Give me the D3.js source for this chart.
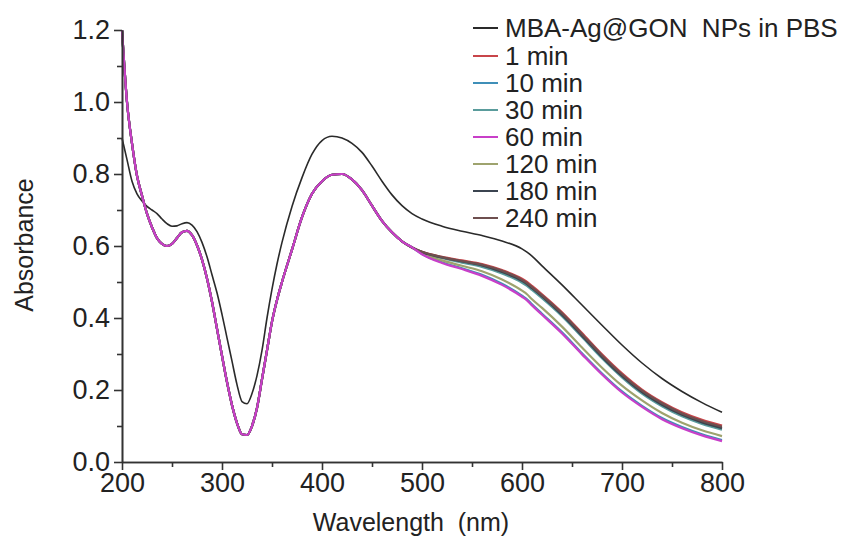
<!DOCTYPE html>
<html><head><meta charset="utf-8">
<script src="https://cdn.jsdelivr.net/npm/d3@7"></script>
<style>
body{margin:0;background:#fff}
svg text{font-family:Arial,"Liberation Sans",sans-serif;fill:#222}
</style>
</head><body>
<svg id="chart" width="844" height="537"></svg>
<script>
// ---- data ----
const wavelengths = [200,205,210,215,220,225,230,235,240,245,250,255,260,265,270,275,280,285,290,295,300,305,310,315,320,325,330,335,340,345,350,355,360,370,380,390,400,410,420,430,440,450,460,470,480,490,
  500,520,540,560,580,600,605,610,620,640,660,680,700,720,740,760,780,800];

const refPBS = [0.90,0.84,0.78,0.745,0.725,0.71,0.70,0.69,0.675,0.662,0.655,0.656,0.662,0.665,0.658,0.64,0.61,0.57,0.52,0.47,0.41,0.345,0.28,0.215,0.168,0.162,0.19,0.24,0.31,0.40,0.48,0.55,0.61,0.71,0.79,0.855,0.893,0.905,0.90,0.885,0.86,0.822,0.78,0.742,0.712,0.69,
  0.675,0.655,0.641,0.629,0.614,0.592,0.583,0.572,0.545,0.492,0.436,0.38,0.325,0.275,0.232,0.196,0.165,0.138];

// colored curves coincide up to ~490 nm
const sharedHead = [1.20,1.00,0.885,0.795,0.74,0.69,0.652,0.622,0.606,0.600,0.606,0.622,0.638,0.642,0.630,0.602,0.562,0.51,0.445,0.37,0.295,0.222,0.158,0.108,0.077,0.075,0.10,0.15,0.23,0.31,0.39,0.45,0.50,0.59,0.68,0.745,0.78,0.798,0.80,0.785,0.755,0.712,0.67,0.638,0.613,0.596];

const tail1   = [0.584,0.570,0.560,0.550,0.533,0.509,0.500,0.489,0.466,0.416,0.358,0.299,0.246,0.201,0.166,0.138,0.117,0.101];
const tail10  = [0.578,0.555,0.538,0.520,0.495,0.462,0.452,0.438,0.412,0.360,0.302,0.246,0.196,0.156,0.122,0.097,0.077,0.061];
const tail30  = [0.582,0.566,0.554,0.542,0.524,0.498,0.489,0.478,0.455,0.405,0.347,0.288,0.235,0.190,0.155,0.127,0.106,0.090];
const tail60  = [0.577,0.553,0.536,0.517,0.492,0.459,0.449,0.435,0.409,0.357,0.299,0.243,0.193,0.153,0.119,0.094,0.074,0.058];
const tail120 = [0.580,0.560,0.545,0.530,0.507,0.476,0.466,0.452,0.428,0.376,0.318,0.262,0.212,0.171,0.136,0.109,0.088,0.072];
const tail180 = [0.583,0.568,0.557,0.546,0.528,0.503,0.494,0.483,0.460,0.409,0.351,0.292,0.239,0.194,0.159,0.131,0.110,0.094];
const tail240 = [0.584,0.569,0.558,0.548,0.531,0.506,0.497,0.486,0.463,0.413,0.355,0.296,0.243,0.198,0.163,0.135,0.114,0.098];

const seriesNames  = ["MBA-Ag@GON  NPs in PBS","1 min","10 min","30 min","60 min","120 min","180 min","240 min"];
const seriesColors = ["#2a2a2a","#c8454a","#3f8fb8","#5a9c9c","#c83fc8","#9ea36e","#3b4450","#6e4f4f"];
const seriesValues = [refPBS, sharedHead.concat(tail1), sharedHead.concat(tail10), sharedHead.concat(tail30),
  sharedHead.concat(tail60), sharedHead.concat(tail120), sharedHead.concat(tail180), sharedHead.concat(tail240)];

const xMajor = [200,300,400,500,600,700,800];
const xMinor = [250,350,450,550,650,750];
const yMajor = [0,0.2,0.4,0.6,0.8,1.0,1.2];
const yMinor = [0.1,0.3,0.5,0.7,0.9,1.1];

// ---- drawing ----
const svg = d3.select("#chart");
const x = d3.scaleLinear().domain([200,800]).range([122,722]);
const y = d3.scaleLinear().domain([0,1.2]).range([462,30]);

const line = d3.line().x(d=>x(d[0])).y(d=>y(d[1])).curve(d3.curveMonotoneX);

// draw order: reference, then colored with 60 min on top
const order = [0,1,2,3,5,6,7,4];
order.forEach(i=>{
  const pts = wavelengths.map((w,k)=>[w,seriesValues[i][k]]);
  svg.append("path").datum(pts).attr("d",line)
    .attr("fill","none").attr("stroke",seriesColors[i])
    .attr("stroke-width", i===0?1.6:2.2).attr("stroke-linejoin","round");
});

// axes
const axisColor = "#333";
function styleAxis(g){
  g.selectAll("path").attr("stroke",axisColor).attr("stroke-width",1.6);
  g.selectAll("line").attr("stroke",axisColor).attr("stroke-width",1.6);
  g.selectAll("text").attr("font-size","27px").attr("fill","#222");
}
svg.append("g").attr("transform","translate(0,462)")
  .call(d3.axisBottom(x).tickValues(xMajor).tickSize(8).tickSizeOuter(0).tickPadding(3).tickFormat(d3.format("d")))
  .call(styleAxis);
svg.append("g").attr("transform","translate(0,462)")
  .call(d3.axisBottom(x).tickValues(xMinor).tickSize(5).tickSizeOuter(0).tickFormat(""))
  .call(styleAxis);
svg.append("g").attr("transform","translate(122,0)")
  .call(d3.axisLeft(y).tickValues(yMajor).tickSize(8).tickSizeOuter(0).tickPadding(4).tickFormat(d3.format(".1f")))
  .call(styleAxis);
svg.append("g").attr("transform","translate(122,0)")
  .call(d3.axisLeft(y).tickValues(yMinor).tickSize(5).tickSizeOuter(0).tickFormat(""))
  .call(styleAxis);

// axis titles
svg.append("text").attr("x",411).attr("y",531).attr("text-anchor","middle")
  .attr("font-size","25px").style("white-space","pre").text("Wavelength  (nm)");
svg.append("text").attr("transform","translate(33,245) rotate(-90)").attr("text-anchor","middle")
  .attr("font-size","25px").text("Absorbance");

// legend
const legendY = [28,56,83,110,137,164,191,218];
const leg = svg.append("g");
seriesNames.forEach((n,i)=>{
  leg.append("line").attr("x1",473).attr("x2",498).attr("y1",legendY[i]).attr("y2",legendY[i])
    .attr("stroke",seriesColors[i]).attr("stroke-width",2);
  leg.append("text").attr("x",505).attr("y",legendY[i]).attr("dy","0.36em")
    .attr("font-size","26px").style("white-space","pre").text(n);
});
</script>
</body></html>
